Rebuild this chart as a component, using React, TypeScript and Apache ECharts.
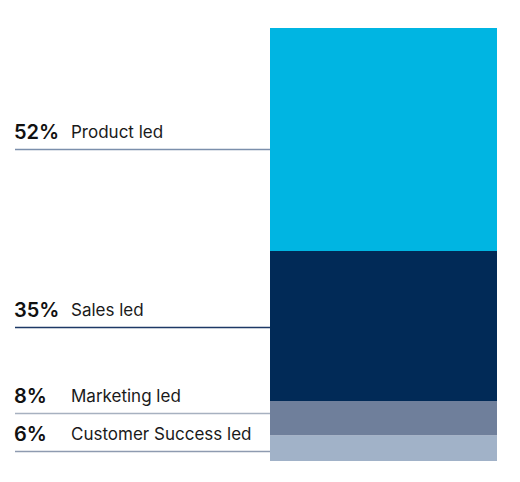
import React, { useEffect, useRef } from "react";
import * as echarts from "echarts";

const categories = ["Product led", "Sales led", "Marketing led", "Customer Success led"];
const shares = [52, 35, 8, 6];
const percentLabels = ["52%", "35%", "8%", "6%"];
// axis value at which each leader line is drawn
const leaderValues = [72.8, 31.3, 11.3, 2.3];
const barColors = ["#00b5e2", "#012a57", "#6f7f9b", "#a1b2c8"];
const lineColors = ["#7b8fac", "#1d3966", "#a7b1c0", "#8e9bb0"];

export default function App() {
  const ref = useRef<HTMLDivElement>(null);
  useEffect(() => {
    document.body.style.margin = "0";
    const chart = echarts.init(ref.current!, null, { renderer: "svg" });
    const total = shares.reduce((a, b) => a + b, 0);
    const order = [3, 2, 1, 0];
    chart.setOption({
      animation: false,
      grid: { left: 270, right: 23, top: 28, bottom: 21 },
      xAxis: { type: "category", data: ["all"], show: false },
      yAxis: { type: "value", min: 0, max: total, show: false, splitLine: { show: false } },
      series: order.map((i) => ({
        type: "bar",
        name: categories[i],
        stack: "total",
        data: [shares[i]],
        barWidth: "100%",
        itemStyle: { color: barColors[i] },
        silent: true,
      })),
    });
    const lineLeft = 15;
    const lineRight = 270;
    const graphics: any[] = [];
    categories.forEach((c, i) => {
      const y = chart.convertToPixel({ yAxisIndex: 0 }, leaderValues[i]) as number;
      const ly = Math.round(y) + 0.5;
      graphics.push({
        type: "line",
        shape: { x1: lineLeft, y1: ly, x2: lineRight, y2: ly },
        style: { stroke: lineColors[i], lineWidth: 1.3 },
      });
      graphics.push({
        type: "text",
        x: 14,
        y: y - 17,
        style: {
          text: percentLabels[i],
          font: "600 20px Inter",
          fill: "#111111",
          verticalAlign: "middle",
          align: "left",
        },
      });
      graphics.push({
        type: "text",
        x: 71,
        y: y - 17,
        style: {
          text: c,
          font: "400 17px Inter",
          fill: "#1a1a1a",
          verticalAlign: "middle",
          align: "left",
        },
      });
    });
    chart.setOption({ graphic: graphics });
    return () => chart.dispose();
  }, []);
  return <div ref={ref} style={{ width: 520, height: 482 }} />;
}
